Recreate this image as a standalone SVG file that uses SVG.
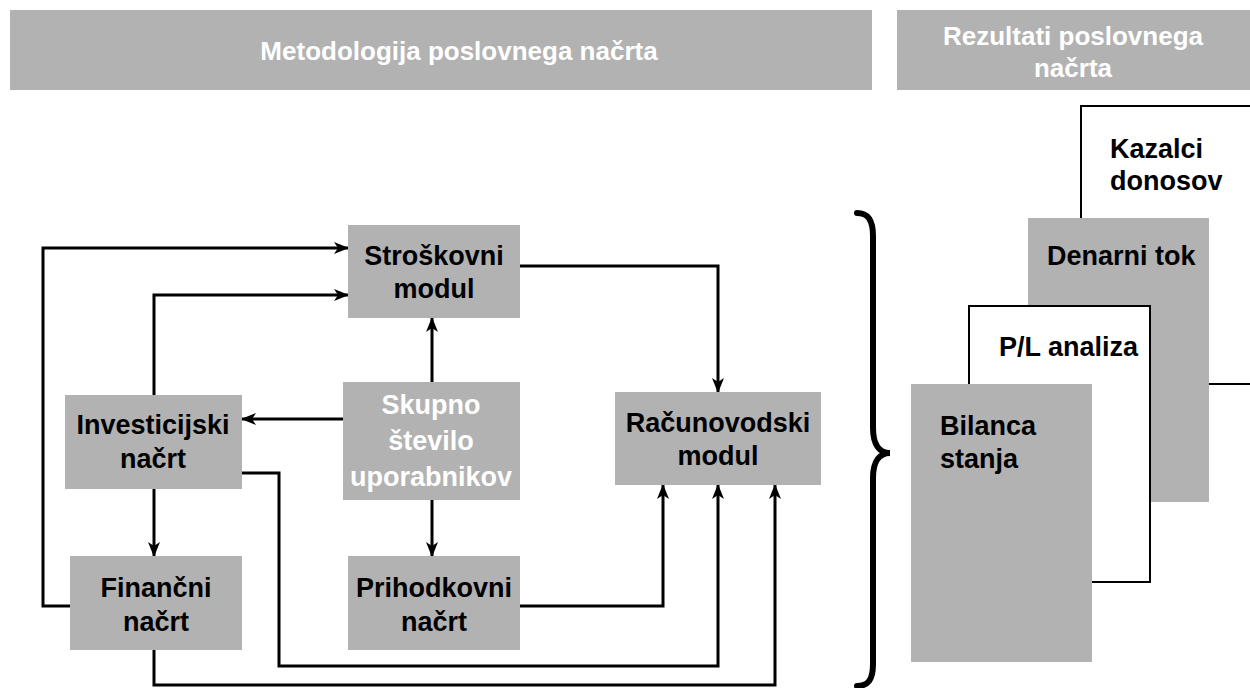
<svg xmlns="http://www.w3.org/2000/svg" width="1250" height="688" viewBox="0 0 1250 688">
  <style>
    .box { fill: #b2b2b2; }
    .sheet { fill: #ffffff; stroke: #000; stroke-width: 2; }
    .lbl { font-family: "Liberation Sans", Arial, sans-serif; font-weight: bold; font-size: 27px; fill: #000; text-anchor: middle; }
    .lblw { fill: #ffffff; }
    .head { font-family: "Liberation Sans", Arial, sans-serif; font-weight: bold; font-size: 26px; fill: #ffffff; text-anchor: middle; }
    .doc { font-family: "Liberation Sans", Arial, sans-serif; font-weight: bold; font-size: 27px; fill: #000; }
    .wire { fill: none; stroke: #000; stroke-width: 3; }
    .wire-arrow { fill: none; stroke: #000; stroke-width: 3; marker-end: url(#tip); }
    .brace { fill: none; stroke: #000; stroke-width: 6; stroke-linecap: round; }
  </style>
  <defs>
    <marker id="tip" markerUnits="userSpaceOnUse" markerWidth="15" markerHeight="15" viewBox="0 0 15 15" refX="14" refY="7.5" orient="auto">
      <path d="M0,1.5 L15,7.5 L0,13.5 L4,7.5 Z" fill="#000"/>
    </marker>
  </defs>

  <rect width="1250" height="688" fill="#ffffff"/>

  <!-- section headers -->
  <g id="header-method">
    <rect class="box" x="10" y="10" width="862" height="80"/>
    <text class="head" x="459" y="60">Metodologija poslovnega načrta</text>
  </g>
  <g id="header-results">
    <rect class="box" x="897" y="10" width="353" height="80"/>
    <text class="head" x="1073" y="45">Rezultati poslovnega</text>
    <text class="head" x="1073" y="77">načrta</text>
  </g>

  <!-- connectors -->
  <g id="connectors">
    <path class="wire-arrow" d="M70,606 H43 V248 H348"/>
    <path class="wire-arrow" d="M154,395 V295 H348"/>
    <path class="wire-arrow" d="M432,382 V318"/>
    <path class="wire-arrow" d="M343,419 H242"/>
    <path class="wire-arrow" d="M432,500 V556"/>
    <path class="wire-arrow" d="M154,489 V556"/>
    <path class="wire-arrow" d="M520,266 H718 V392"/>
    <path class="wire-arrow" d="M520,606 H663 V485"/>
    <path class="wire-arrow" d="M242,473 H279 V666 H718 V485"/>
    <path class="wire-arrow" d="M154,650 V685 H775 V485"/>
    <!-- brace grouping the method block -->
    <path class="brace" d="M857,213 C868,213 873,220 873,236 V428 C873,445 880,453 890,453 C880,453 873,461 873,478 V664 C873,680 868,686 857,686"/>
  </g>

  <!-- method nodes -->
  <g id="node-stroskovni">
    <rect class="box" x="348" y="225" width="172" height="93"/>
    <text class="lbl" x="434" y="265">Stroškovni</text>
    <text class="lbl" x="434" y="298">modul</text>
  </g>
  <g id="node-skupno">
    <rect class="box" x="343" y="382" width="177" height="118"/>
    <text class="lbl lblw" x="431" y="414">Skupno</text>
    <text class="lbl lblw" x="431" y="450">število</text>
    <text class="lbl lblw" x="431" y="486">uporabnikov</text>
  </g>
  <g id="node-investicijski">
    <rect class="box" x="65" y="395" width="177" height="94"/>
    <text class="lbl" x="153" y="434">Investicijski</text>
    <text class="lbl" x="153" y="468">načrt</text>
  </g>
  <g id="node-financni">
    <rect class="box" x="70" y="556" width="172" height="94"/>
    <text class="lbl" x="156" y="597">Finančni</text>
    <text class="lbl" x="156" y="631">načrt</text>
  </g>
  <g id="node-prihodkovni">
    <rect class="box" x="348" y="556" width="172" height="94"/>
    <text class="lbl" x="434" y="597">Prihodkovni</text>
    <text class="lbl" x="434" y="631">načrt</text>
  </g>
  <g id="node-racunovodski">
    <rect class="box" x="615" y="392" width="206" height="93"/>
    <text class="lbl" x="718" y="432">Računovodski</text>
    <text class="lbl" x="718" y="465">modul</text>
  </g>

  <!-- stacked result sheets -->
  <g id="sheet-kazalci">
    <rect class="sheet" x="1081" y="106" width="175" height="278"/>
    <text class="doc" x="1110" y="158">Kazalci</text>
    <text class="doc" x="1110" y="190">donosov</text>
  </g>
  <g id="sheet-denarni">
    <rect class="box" x="1028" y="218" width="181" height="284"/>
    <text class="doc" x="1047" y="265">Denarni tok</text>
  </g>
  <g id="sheet-pl">
    <rect class="sheet" x="969" y="306" width="181" height="276"/>
    <text class="doc" x="999" y="356">P/L analiza</text>
  </g>
  <g id="sheet-bilanca">
    <rect class="box" x="911" y="384" width="181" height="278"/>
    <text class="doc" x="940" y="435">Bilanca</text>
    <text class="doc" x="940" y="468">stanja</text>
  </g>
</svg>
